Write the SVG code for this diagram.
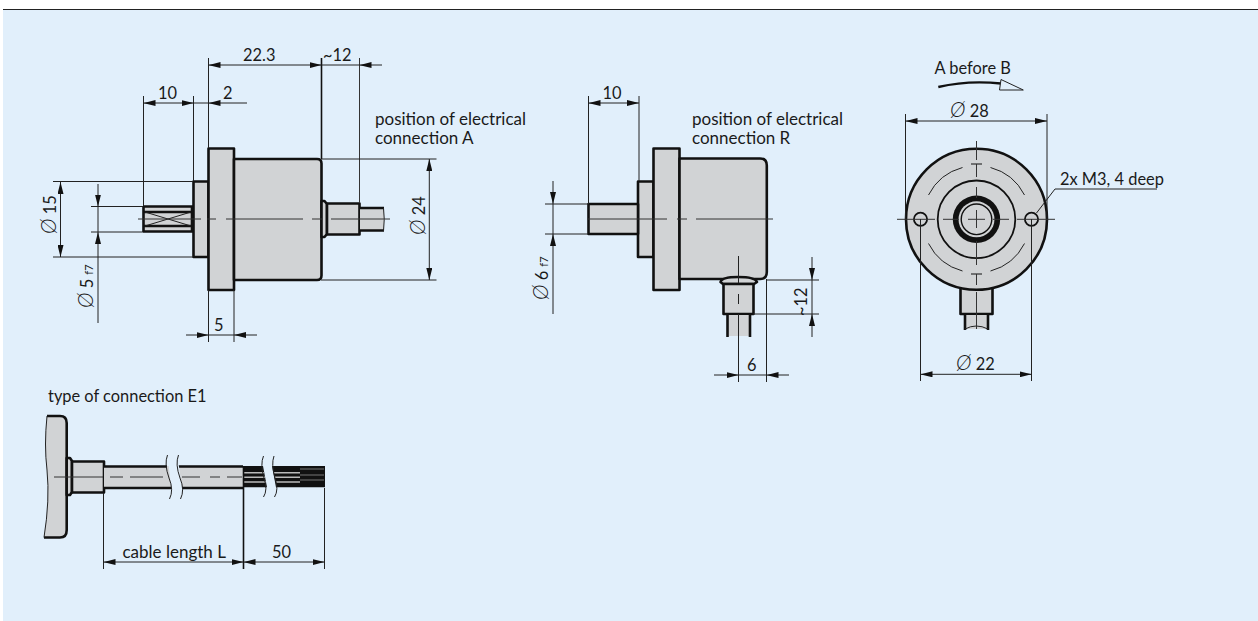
<svg xmlns="http://www.w3.org/2000/svg" width="1258" height="621" viewBox="0 0 1258 621">
<defs>
<marker id="a" viewBox="0 0 12 6" refX="12" refY="3" markerWidth="12" markerHeight="6" markerUnits="userSpaceOnUse" orient="auto-start-reverse"><path d="M0 0L12 3L0 6z" fill="#111"/></marker>
</defs>
<style>
text{font-family:"Lato","Noto Sans",sans-serif;font-size:16.400px;fill:#1a1a1a}
.w{font-size:17px}
.o{font-size:21px;font-style:italic;font-weight:300}
.s{font-size:11px}
.b{fill:#d1d3d5;stroke:#111;stroke-width:2.600;stroke-linejoin:round}
.t{fill:none;stroke:#111;stroke-width:2.600}
.m{fill:none;stroke:#111;stroke-width:1.800}
.d{fill:none;stroke:#222;stroke-width:1}
.g{fill:none;stroke:#333;stroke-width:1}
.k{fill:none;stroke:#111;stroke-width:1.600}
.da{fill:none;stroke:#222;stroke-width:1;marker-start:url(#a);marker-end:url(#a)}
.e{fill:none;stroke:#222;stroke-width:1;marker-end:url(#a)}
</style>
<rect width="1258" height="621" fill="#fff"/>
<rect x="3" y="10" width="1255" height="611" fill="#e1effb"/>
<path d="M3 9.500H1258" stroke="#222" stroke-width="1"/>
<g id="view-a">
<rect class="b" x="193.500" y="181.500" width="15" height="75.500"/>
<rect class="b" x="208.500" y="148.500" width="25.500" height="141.500"/>
<path class="b" d="M234 159H317Q321.500 159 321.500 163.500V275.500Q321.500 280 317 280H234Z"/>
<path class="b" d="M321.500 201H324.500L327 204V234L324.500 237H321.500Z"/>
<rect class="b" x="327" y="203.500" width="32.500" height="31"/>
<path d="M360 208H384V231H360Z" fill="#d1d3d5"/>
<path class="t" d="M360 208H384M360 230.500H384"/>
<path class="d" d="M383.500 208Q385 219 383.500 231"/>
<rect x="143.500" y="206" width="49.500" height="26" fill="#d1d3d5"/>
<path class="t" d="M143 206.500H193M143 231.500H193M143 212H193M143 226H193M143.500 206V232M192 206V232"/>
<path class="d" d="M145 212L191 226M145 226L191 212"/>
<path class="g" d="M138 219H390" stroke-dasharray="63 6 9 10 77 9 10 9 59"/>
</g>
<g id="view-r">
<rect class="b" x="638" y="181.500" width="15.500" height="75.500"/>
<rect class="b" x="653.500" y="148.500" width="26" height="141.500"/>
<path class="b" d="M679.500 158.500H760Q766.800 158.500 766.800 165.500V272Q766.800 279 760 279H679.500Z"/>
<rect class="b" x="588.500" y="204" width="49.500" height="30"/>
<path class="b" d="M720.500 282Q722 277 738 277Q755 277 757 282L754 284H723Z"/>
<rect class="b" x="723.500" y="284" width="30" height="30"/>
<path d="M727 315H750V336H727Z" fill="#d1d3d5"/>
<path class="t" d="M727.500 314V337M750 314V337"/>
<path class="g" d="M588 219H773" stroke-dasharray="79 10 10 9 77"/>
<path class="d" d="M738.500 256V283M738.500 294V304M738.500 314V382"/>
</g>
<g id="view-front">
<rect class="b" x="960.500" y="285" width="32" height="29"/>
<path d="M965 315H988V329H965Z" fill="#d1d3d5"/>
<path class="t" d="M965 314V330M988 314V330"/>
<path class="d" d="M965 329Q976 323 988 329"/>
<circle class="b" cx="976.500" cy="219.300" r="70.500"/>
<path class="d" d="M962.500 167.500A53.700 53.700 0 0 0 928.500 195M962.500 271A53.700 53.700 0 0 1 928.500 243.500M990.500 167.500A53.700 53.700 0 0 1 1024.500 195M990.500 271A53.700 53.700 0 0 0 1024.500 243.500"/>
<path class="m" d="M971 164H982M971 274H982" style="stroke-width:1.200"/>
<circle class="m" cx="976.500" cy="219.300" r="38.800"/>
<circle fill="#111" cx="976.500" cy="219.300" r="23.700"/>
<circle fill="#d1d3d5" cx="976.500" cy="219.300" r="18"/>
<circle fill="#d1d3d5" stroke="#111" stroke-width="1.400" cx="976.500" cy="219.300" r="15.300"/>
<circle class="m" cx="920.500" cy="219.300" r="6.600" style="fill:#d1d3d5"/>
<circle class="m" cx="1031.500" cy="219.300" r="6.600" style="fill:#d1d3d5"/>
<path class="g" d="M897 219.300H935M943 219.300H959M968 219.300H985M993 219.300H1009M1017 219.300H1055M976.500 141V160M976.500 164V177M976.500 187V198M976.500 210V228M976.500 241V265M976.500 274V285M976.500 292V329"/>
<path class="d" d="M1036.500 213L1055 189H1157"/>
<path d="M938.300 87Q968 80 1001 83.500" fill="none" stroke="#111" stroke-width="2.400"/>
<path d="M1001 79.500L999.500 90H1023.300Z" fill="#e1effb" stroke="#222" stroke-width="1"/>
</g>
<g id="view-e1">
<path d="M47 416Q44 445 47 470Q50 500 44 537.500H60Q66.700 537.500 66.700 530V423Q66.700 416 60 416Z" fill="#d1d3d5"/>
<path class="t" d="M47 416H60Q66.700 416 66.700 423V530Q66.700 537.500 60 537.500H44"/>
<path class="d" d="M47 416Q44 445 47 470Q50 500 44 537.500"/>
<path class="b" d="M66.700 458H70L72 461V492L70 495H66.700Z"/>
<rect class="b" x="72" y="461.500" width="32" height="31"/>
<rect x="104" y="466" width="140" height="23" fill="#d1d3d5"/>
<path class="t" d="M104 466.500H167M104 488H171M178 466.500H243M182 488H243"/>
<path fill="#e1effb" d="M168 460H178L183 495H172Z"/>
<path class="d" d="M167.500 455Q164 464 169 478Q174 490 169.500 499M178.500 455Q175 464 180 478Q185 490 180.500 499"/>
<path class="g" d="M54 477H103M110 477H123M130 477H163M182 477H200M210 477H220M227 477H242"/>
<path d="M243.500 466H263L267 487.300H243.500Z" fill="#111"/>
<path d="M272 466H325V487.300H276Z" fill="#111"/>
<path d="M244 472.700H264M244 477.300H265M244 482H266M274 472.700H300M275 477.300H300M276 482H300" stroke="#bbb" stroke-width="1.600"/>
<path d="M300 469H324M300 475H324M300 480H324" stroke="#777" stroke-width="1"/>
<path class="d" d="M263.500 456Q260 464 264 478Q268 490 263.500 497M274 456Q271 464 275 478Q279 490 274.500 497"/>
</g>
<g id="connectors">
<path class="d" d="M143.500 96V206M193.500 96V181M208.500 58V148M208.500 290V342M234 290V342"/>
<path class="k" d="M321.500 58V159"/>
<path class="g" d="M359.500 58V203"/>
<path class="da" d="M143.500 103H193.500"/>
<path class="d" d="M193.500 103H208.500"/>
<path class="e" d="M247 103H208.500"/>
<path class="da" d="M208.500 65H321.500"/>
<path class="d" d="M321.500 65H359.500"/>
<path class="e" d="M382 65H359.500"/>
<path class="e" d="M186 335H208.500"/>
<path class="e" d="M257 335H234"/>
<path class="d" d="M208.500 335H234"/>
<path class="d" d="M53 181.500H193M53 257H193M91 206.500H143M91 232H143M321 159H436.500M321 280H436.500"/>
<path class="da" d="M60.500 182V257"/>
<path class="d" d="M98 206.500V232"/>
<path class="e" d="M98 184V206.500"/>
<path class="e" d="M98 323V232"/>
<path class="da" d="M429.300 159V280"/>
<path class="d" d="M588.500 96V204M639 96V181"/>
<path class="da" d="M588.500 103H639"/>
<path class="d" d="M545 204H588M545 234H588"/>
<path class="d" d="M553 204V234"/>
<path class="e" d="M553 181V204"/>
<path class="e" d="M553 314V234"/>
<path class="d" d="M767 280H819M753 314H819M766.500 279V382"/>
<path class="d" d="M812 280V314"/>
<path class="e" d="M812 257V280"/>
<path class="e" d="M812 337V314"/>
<path class="e" d="M714 375H738.500"/>
<path class="e" d="M789 375H766.500"/>
<path class="d" d="M738.500 375H766.500"/>
<path class="d" d="M905.500 114V219M1047 114V219M920.500 219V381M1031.500 219V381"/>
<path class="da" d="M905.500 121H1047"/>
<path class="da" d="M920.500 374.300H1031.500"/>
<path class="d" d="M103.500 493V569M324.500 488V569"/>
<path class="k" d="M243.500 466V569"/>
<path class="da" d="M103.500 562H243.500"/>
<path class="da" d="M243.500 562H324.500"/>
</g>
<g id="labels">
<text x="158" y="99">10</text>
<text x="223" y="99">2</text>
<text x="243" y="61">22.3</text>
<text x="323" y="61">~12</text>
<text class="w" x="375" y="124.500">position of electrical</text>
<text class="w" x="375" y="143.500">connection A</text>
<text x="214" y="331">5</text>
<text transform="translate(56 234) rotate(-90)"><tspan class="o">Ø</tspan> 15</text>
<text transform="translate(93 308) rotate(-90)"><tspan class="o">Ø</tspan> 5 <tspan class="s">f7</tspan></text>
<text transform="translate(425 235) rotate(-90)"><tspan class="o">Ø</tspan> 24</text>
<text x="602.500" y="99">10</text>
<text class="w" x="692" y="125">position of electrical</text>
<text class="w" x="692" y="144">connection R</text>
<text transform="translate(548 300) rotate(-90)"><tspan class="o">Ø</tspan> 6 <tspan class="s">f7</tspan></text>
<text transform="translate(807 316) rotate(-90)">~12</text>
<text x="747" y="371">6</text>
<text x="934.500" y="74">A before B</text>
<text x="950" y="117"><tspan class="o">Ø</tspan> 28</text>
<text x="956" y="370"><tspan class="o">Ø</tspan> 22</text>
<text x="1060" y="185">2x M3, 4 deep</text>
<text x="48" y="402">type of connection E1</text>
<text class="w" x="122.500" y="558">cable length L</text>
<text x="272" y="558">50</text>
</g>
</svg>
